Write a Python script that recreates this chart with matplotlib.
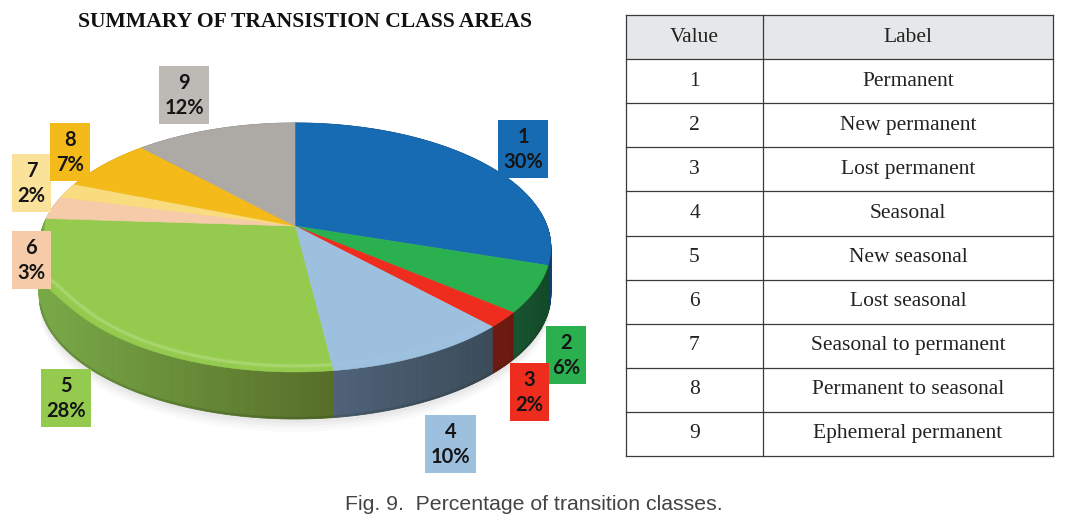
import numpy as np
import matplotlib
matplotlib.use("Agg")
import matplotlib.pyplot as plt
from matplotlib.collections import PolyCollection
from matplotlib.colors import to_rgb

# ---- data ----
class_ids = [1, 2, 3, 4, 5, 6, 7, 8, 9]
percent = [30, 6, 2, 10, 28, 3, 2, 7, 12]
class_labels = ["Permanent", "New permanent", "Lost permanent", "Seasonal", "New seasonal",
                "Lost seasonal", "Seasonal to permanent", "Permanent to seasonal", "Ephemeral permanent"]
table_header = ["Value", "Label"]
title = "SUMMARY OF TRANSISTION CLASS AREAS"
caption = "Fig. 9.  Percentage of transition classes."

# ---- style ----
top_colors = ["#176BB3", "#2BB050", "#EE2D1F", "#9DC0DF", "#94CB4E", "#F6CBAA", "#F9DC7E", "#F3BA19", "#ADA9A5"]
box_colors = ["#176BB3", "#2BB050", "#EE2D1F", "#9DC0DF", "#94CB4E", "#F6CBAA", "#FAE29A", "#F3BA19", "#BDBAB6"]
side_left = ["#145795", "#17522E", "#6E1A10", "#4F6278", "#78A846", "#C9A688", "#C9B060", "#C49A20", "#8A8784"]
side_right = ["#0E3D6E", "#124A28", "#6A170F", "#3A4B58", "#566D28", "#C9A688", "#C9B060", "#C49A20", "#8A8784"]
box_xy = [(498, 120, 50, 58), (546, 326, 40, 58), (510, 363, 39, 58), (425, 415, 51, 58), (41, 369, 50, 58),
          (12, 231, 39, 58), (12, 154, 39, 58), (50, 123, 40, 58), (159, 66, 50, 58)]

CX, CY, A, B, P, DEPTH = 295, 226, 252, 120.8, 0.1725, 47


def project(t, r=1.0):
    """Perspective view of a point on the pie disc (t clockwise from 12 o'clock)."""
    u, v = r * np.sin(t), r * np.cos(t)
    w = 1 + P * v
    return CX + A * u / w, CY - B * v / w


def rim_extra(t):
    """The bevel of the disc swallows the wall near the left extreme of the pie."""
    d = np.degrees(t)
    up = np.clip((d - 225) / (262 - 225), 0, 1) ** 3
    down = np.clip((273.6 - d) / (273.6 - 262), 0, 1)
    return DEPTH * up * down


fig = plt.figure(figsize=(10.73, 5.21), dpi=100)
ax = fig.add_axes([0, 0, 1, 1])
ax.set_xlim(0, 1073)
ax.set_ylim(521, 0)
ax.axis("off")

edges = np.concatenate([[0], np.cumsum(percent)]) / sum(percent) * 2 * np.pi

# soft shadow
tt = np.linspace(0, 2 * np.pi, 361)
sx, sy = project(tt)
for off, al in zip([60, 57, 54, 51], [0.03, 0.04, 0.05, 0.06]):
    ax.fill(sx, sy + off, color="#808080", alpha=al, lw=0, zorder=1)

# side wall
polys, cols = [], []
for i in range(len(percent)):
    ts = np.linspace(edges[i], edges[i + 1], max(3, int(percent[i] * 6)))
    x, y = project(ts)
    xmin, xmax = project(np.array([edges[i], edges[i + 1]]))[0]
    lo, hi = min(xmin, xmax), max(xmin, xmax)
    cl, cr = np.array(to_rgb(side_left[i])), np.array(to_rgb(side_right[i]))
    for j in range(len(ts) - 1):
        polys.append([(x[j], y[j]), (x[j + 1], y[j + 1]), (x[j + 1], y[j + 1] + DEPTH), (x[j], y[j] + DEPTH)])
        f = np.clip(((x[j] + x[j + 1]) / 2 - lo) / max(hi - lo, 1), 0, 1)
        cols.append(cl + (cr - cl) * f)
ax.add_collection(PolyCollection(polys, facecolors=cols, edgecolors=cols, linewidths=0.6, zorder=2))

# soft dark line where the wall meets the ground
tf = np.linspace(np.radians(115), np.radians(255), 200)
bx_, by_ = project(tf)
ax.plot(bx_, by_ + DEPTH - 1, color="#202a18", lw=1.6, alpha=0.18, zorder=2.5)

# top surface
for i in range(len(percent)):
    ts = np.linspace(edges[i], edges[i + 1], max(3, int(percent[i] * 6)))
    x, y = project(ts)
    y = y + rim_extra(ts)
    ax.fill(np.r_[CX, x], np.r_[CY, y], color=top_colors[i], lw=0.4, zorder=3)

# bevel highlight on the front rim of the largest front slices
for i, (col, scale) in {4: ("#C3E39A", 1.0), 3: ("#C3D9EC", 0.25)}.items():
    ts = np.linspace(edges[i], edges[i + 1], 120)
    ts = ts[ts < np.radians(255)]
    x, y = project(ts, 0.965)
    y = y + rim_extra(ts) * 0.9
    for lw, al in [(3.5, 0.14), (2.2, 0.2), (1.0, 0.3)]:
        ax.plot(x, y, color=col, lw=lw, alpha=al * scale, zorder=4, solid_capstyle="butt")

# labels
for cid, pct, (bx, by, bw, bh), col in zip(class_ids, percent, box_xy, box_colors):
    ax.fill([bx, bx + bw, bx + bw, bx], [by, by, by + bh, by + bh], color=col, lw=0, zorder=5)
    ax.text(bx + bw / 2, by + bh * 0.29, str(cid), ha="center", va="center", fontsize=14.5,
            fontweight="bold", family="Lato", color="#151515", zorder=6)
    ax.text(bx + bw / 2, by + bh * 0.73, f"{pct}%", ha="center", va="center", fontsize=14.5,
            fontweight="bold", family="Lato", color="#151515", zorder=6)

ax.text(305, 22, title, ha="center", va="center", fontsize=15.6, fontweight="bold",
        family="Liberation Serif", color="#111111")
ax.text(534, 505, caption, ha="center", va="center", fontsize=15.3, family="Liberation Sans", color="#444444")

# table
T_L, T_M, T_R, T_T, ROW_H = 626, 763, 1053, 15, 44.1
n_rows = len(class_ids) + 1
T_B = T_T + ROW_H * n_rows
ax.fill([T_L, T_R, T_R, T_L], [T_T, T_T, T_T + ROW_H, T_T + ROW_H], color="#E6E7E8", lw=0, zorder=1)
for k in range(n_rows + 1):
    ax.plot([T_L, T_R], [T_T + k * ROW_H] * 2, color="#3A3A3A", lw=0.9, zorder=2)
for xv in (T_L, T_M, T_R):
    ax.plot([xv, xv], [T_T, T_B], color="#3A3A3A", lw=0.9, zorder=2)
rows = [table_header] + [[str(c), l] for c, l in zip(class_ids, class_labels)]
for k, (a, b) in enumerate(rows):
    yc = T_T + (k + 0.5) * ROW_H
    ax.text((T_L + T_M) / 2, yc, a, ha="center", va="center", fontsize=15.5, family="Liberation Serif", color="#222222")
    ax.text((T_M + T_R) / 2, yc, b, ha="center", va="center", fontsize=15.5, family="Liberation Serif", color="#222222")

fig.savefig("out.png", dpi=100)
